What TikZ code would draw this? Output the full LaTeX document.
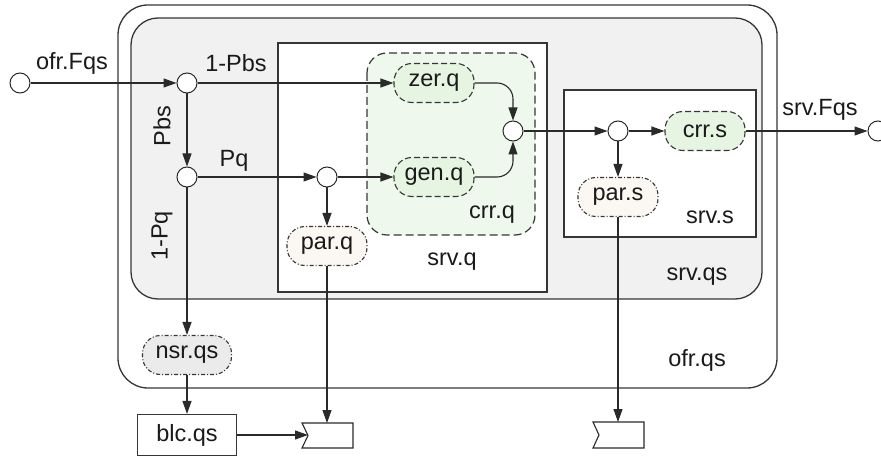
\documentclass[tikz,border=0pt]{standalone}
\usepackage{fontspec}
\setmainfont{Liberation Sans}
\usetikzlibrary{arrows.meta}
\newcommand\diagfont{\fontsize{23.5}{27}\selectfont}
\definecolor{lineC}{HTML}{2A2A2A}
\definecolor{frameC}{HTML}{363636}
\definecolor{grayfill}{HTML}{F1F1F1}
\definecolor{crrfill}{HTML}{EEF8EC}
\definecolor{nodegreen}{HTML}{E6F4E2}
\definecolor{parfill}{HTML}{FBF8F3}
\definecolor{nsrfill}{HTML}{EBEBEB}
\definecolor{textC}{HTML}{1A1A1A}
\tikzset{
  ln/.style={draw=lineC, line width=1.1pt},
  arr/.style={ln, -{Triangle[length=13pt,width=9pt]}},
  pt/.style={circle, draw=lineC, line width=1pt, fill=white, minimum size=20pt, inner sep=0pt},
  proc/.style={rectangle, rounded corners=18pt, minimum width=80pt, minimum height=39pt,
    inner sep=0pt, line width=1.1pt, draw=frameC, font=\diagfont, text=textC},
  greenproc/.style={proc, fill=nodegreen, dash pattern=on 6pt off 3pt},
  parproc/.style={proc, fill=parfill, dash pattern=on 4pt off 2pt on 1pt off 2pt},
  nsrproc/.style={proc, fill=nsrfill, dash pattern=on 4pt off 2pt on 1pt off 2pt, minimum width=89pt},
  lbl/.style={inner sep=0pt, font=\diagfont, text=textC},
  frame/.style={draw=frameC, line width=1.3pt},
}
\begin{document}
\begin{tikzpicture}[x=1pt,y=-1pt]
\useasboundingbox (0,0) rectangle (881,457);
% frames
\draw[frame, fill=white, rounded corners=30pt] (118,5) rectangle (777,388);
\draw[frame, fill=grayfill, rounded corners=27pt] (131,18) rectangle (762,299);
\draw[frame, fill=white] (278,43) rectangle (547,292);
\draw[frame, fill=crrfill, rounded corners=20pt, dash pattern=on 8pt off 4pt, line width=1.2pt] (367,53) rectangle (535,235);
\draw[frame, fill=white] (564,90) rectangle (756,237);
% points
\node[pt] (in) at (20,83) {};
\node[pt] (s1) at (187,83) {};
\node[pt] (s2) at (187,177) {};
\node[pt] (s3) at (327,177) {};
\node[pt] (mg) at (513,131) {};
\node[pt] (s4) at (618,131) {};
\node[pt] (out) at (878,131) {};
% process nodes
\node[greenproc] (zer) at (434,83) {zer.q};
\node[greenproc] (gen) at (434,177) {gen.q};
\node[greenproc] (crrs) at (705,131) {crr.s};
\node[parproc] (parq) at (327,246) {par.q};
\node[parproc] (pars) at (618,197) {par.s};
\node[nsrproc] (nsr) at (187,355) {nsr.qs};
\node[proc, rounded corners=0pt, fill=white, minimum width=99pt, minimum height=41pt] (blc) at (187,435) {blc.qs};
% queues
\draw[ln, fill=white] (302,423) -- (353,423) -- (353,448) -- (302,448) -- (308,435.5) -- cycle;
\coordinate (q1n) at (308,435);
\coordinate (q1t) at (327,423);
\draw[ln, fill=white] (593,422) -- (644,422) -- (644,448) -- (593,448) -- (599,435) -- cycle;
\coordinate (q2t) at (618,422);
% labels
\node[lbl] (lofr) at (72,63) {ofr.Fqs};
\node[lbl] (lpbs1) at (236,63) {1-Pbs};
\node[lbl, rotate=90] (lpbs) at (162,126) {Pbs};
\node[lbl] (lpq) at (234,161) {Pq};
\node[lbl, rotate=90] (lpq1) at (162,236) {1-Pq};
\node[lbl] (lcrrq) at (492,215) {crr.q};
\node[lbl] (lsrvq) at (452,262) {srv.q};
\node[lbl] (lsrvs) at (710,217) {srv.s};
\node[lbl] (lsrvqs) at (697,277) {srv.qs};
\node[lbl] (lofrqs) at (697,360) {ofr.qs};
\node[lbl] (lsrvf) at (820,110) {srv.Fqs};
% connectors
\draw[arr] (in) -- (s1);
\draw[arr] (s1) -- (zer);
\draw[arr] (s1) -- (s2);
\draw[arr] (s2) -- (s3);
\draw[arr] (s3) -- (gen);
\draw[arr] (s3) -- (parq);
\draw[arr, rounded corners=16pt] (zer.east) -| (mg.north);
\draw[arr, rounded corners=16pt] (gen.east) -| (mg.south);
\draw[arr] (mg) -- (s4);
\draw[arr] (s4) -- (crrs);
\draw[arr] (s4) -- (pars);
\draw[arr] (crrs) -- (out);
\draw[arr] (s2) -- (nsr);
\draw[arr] (nsr) -- (blc);
\draw[arr] (parq) -- (q1t);
\draw[arr] (pars) -- (q2t);
\draw[arr] (blc) -- (q1n);
\end{tikzpicture}
\end{document}
